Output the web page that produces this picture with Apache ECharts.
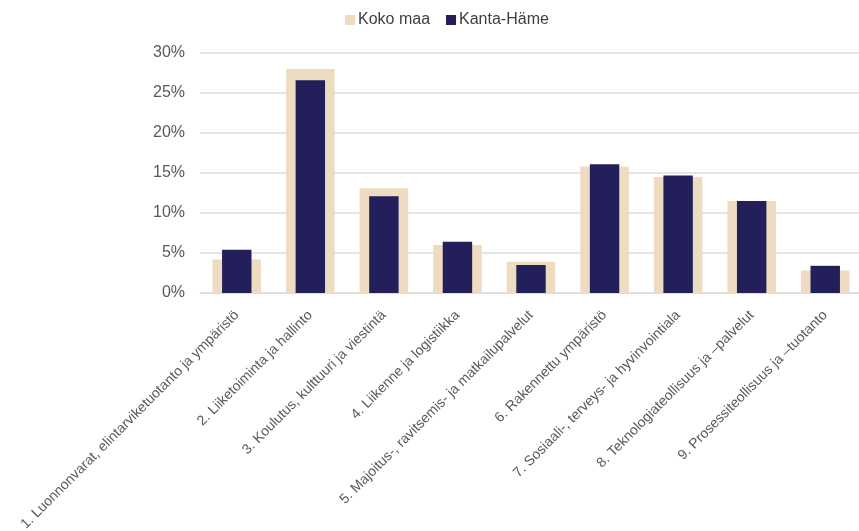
<!DOCTYPE html>
<html><head><meta charset="utf-8">
<script src="https://cdn.jsdelivr.net/npm/echarts@6/dist/echarts.min.js"></script>
<style>html,body{margin:0;padding:0;background:#fff}#c{width:859px;height:531px}</style>
</head><body><div id="c"></div>
<script>
const categories = [
  "1. Luonnonvarat, elintarviketuotanto ja ympäristö",
  "2. Liiketoiminta ja hallinto",
  "3. Koulutus, kulttuuri ja viestintä",
  "4. Liikenne ja logistiikka",
  "5. Majoitus-, ravitsemis- ja matkailupalvelut",
  "6. Rakennettu ympäristö",
  "7. Sosiaali-, terveys- ja hyvinvointiala",
  "8. Teknologiateollisuus ja –palvelut",
  "9. Prosessiteollisuus ja –tuotanto"
];
const kokoMaa = [4.2, 28.0, 13.1, 6.0, 3.9, 15.8, 14.5, 11.5, 2.8];
const kantaHame = [5.4, 26.6, 12.1, 6.4, 3.5, 16.1, 14.7, 11.5, 3.4];

const chart = echarts.init(document.getElementById('c'));
const font = 'Liberation Sans, Arial, sans-serif';
chart.setOption({
  animation: false,
  textStyle: { fontFamily: font },
  legend: {
    top: 7, left: 340, itemWidth: 10, itemHeight: 10, itemGap: 16,
    icon: 'rect',
    textStyle: { fontSize: 16, color: '#404040', fontFamily: font, padding: [0, 0, 0, -2] },
    data: ['Koko maa', 'Kanta-Häme']
  },
  grid: { left: 200, right: -3, top: 53, bottom: 238, containLabel: false, outerBoundsMode: 'none' },
  xAxis: [
    {
      type: 'category', data: categories,
      axisLine: { show: true, lineStyle: { color: '#dcdcdc', width: 1.5 } },
      axisTick: { show: false },
      axisLabel: { rotate: 45, interval: 0, fontSize: 14, color: '#595959', fontFamily: font, margin: 20 }
    },
    {
      type: 'category', data: categories, show: false
    }
  ],
  yAxis: {
    type: 'value', min: 0, max: 30, interval: 5,
    axisLine: { show: false }, axisTick: { show: false },
    axisLabel: { formatter: '{value}%', fontSize: 16, color: '#595959', fontFamily: font, margin: 15 },
    splitLine: { lineStyle: { color: '#dcdcdc', width: 1.5 } }
  },
  series: [
    { name: 'Koko maa', type: 'bar', xAxisIndex: 0, data: kokoMaa, barWidth: '66%',
      itemStyle: { color: '#eddcc0' } },
    { name: 'Kanta-Häme', type: 'bar', xAxisIndex: 1, data: kantaHame, barWidth: '40%',
      itemStyle: { color: '#221f5a' } }
  ]
});
</script></body></html>
